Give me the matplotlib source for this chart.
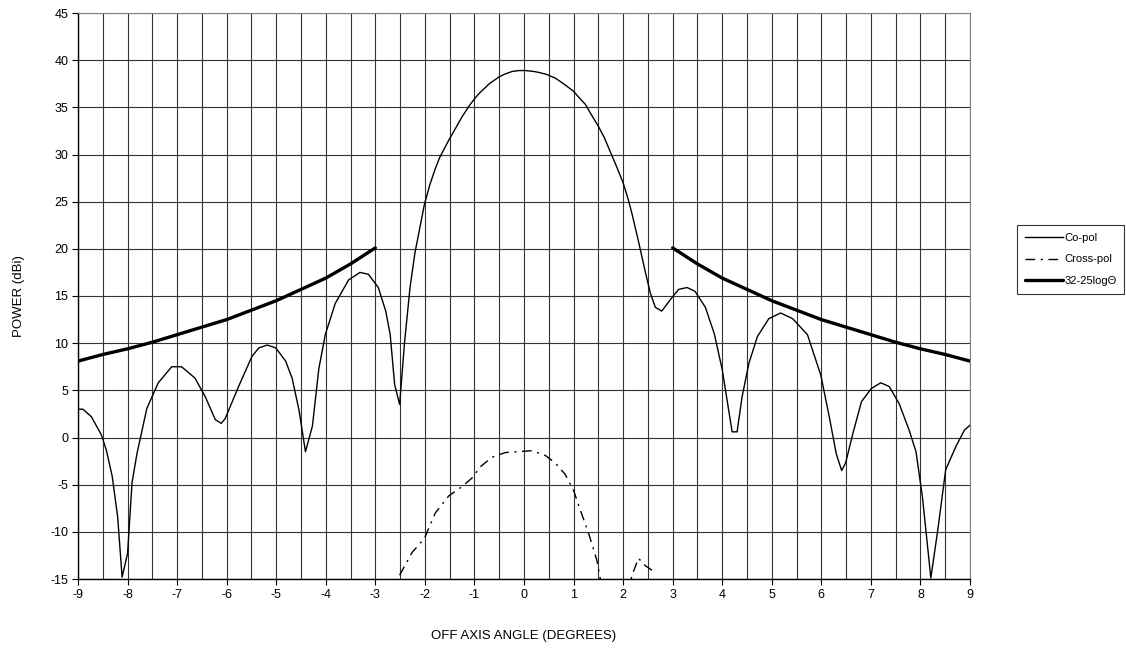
import matplotlib
matplotlib.use("Agg")
import matplotlib.pyplot as plt
import numpy as np

plt.rcParams['font.family'] = ['Liberation Sans', 'DejaVu Sans']
plt.rcParams['axes.unicode_minus'] = False

# Co-pol pattern (angle deg, power dBi)
copol_x = [-9.0, -8.9, -8.73, -8.53, -8.43, -8.31, -8.2, -8.11, -8.0, -7.91, -7.81, -7.61,
           -7.38, -7.11, -6.91, -6.64, -6.43, -6.23, -6.11, -6.03, -5.76, -5.49, -5.35,
           -5.18, -5.01, -4.81, -4.68, -4.54, -4.41, -4.27, -4.14, -4.01, -3.81, -3.54,
           -3.31, -3.14, -2.94, -2.79, -2.70, -2.61, -2.51, -2.41, -2.30, -2.20, -2.01,
           -1.9, -1.79, -1.7, -1.52, -1.4, -1.25, -1.1, -1.0, -0.9, -0.78, -0.7, -0.51,
           -0.4, -0.24, -0.1, 0.03, 0.2, 0.30, 0.45, 0.63, 0.8, 1.0, 1.1, 1.24, 1.35,
           1.50, 1.62, 1.74, 1.87, 2.0, 2.1, 2.18, 2.31, 2.45, 2.55, 2.65, 2.78, 2.98,
           3.12, 3.29, 3.45, 3.66, 3.84, 4.0, 4.20, 4.30, 4.40, 4.54, 4.71, 4.94, 5.18,
           5.42, 5.72, 5.99, 6.16, 6.30, 6.41, 6.49, 6.64, 6.81, 7.01, 7.20, 7.37, 7.57,
           7.77, 7.91, 8.04, 8.21, 8.35, 8.51, 8.72, 8.89, 9.0]
copol_y = [3.0, 3.0, 2.2, 0.3, -1.3, -4.1, -8.4, -14.8, -12.3, -4.8, -1.7, 3.1,
           5.8, 7.5, 7.5, 6.3, 4.3, 1.9, 1.5, 2.0, 5.4, 8.6, 9.5,
           9.8, 9.5, 8.1, 6.3, 2.9, -1.5, 1.2, 7.3, 10.9, 14.2, 16.7,
           17.5, 17.3, 15.9, 13.4, 10.9, 5.6, 3.5, 10.1, 15.9, 19.6, 24.7,
           26.8, 28.5, 29.7, 31.5, 32.6, 34.0, 35.2, 35.9, 36.5, 37.1, 37.5, 38.2,
           38.5, 38.8, 38.9, 38.9, 38.8, 38.7, 38.5, 38.1, 37.5, 36.7, 36.1, 35.3, 34.3,
           33.0, 31.8, 30.3, 28.7, 27.0, 25.3, 23.7, 20.8, 17.5, 15.3, 13.8, 13.4, 14.8,
           15.7, 15.9, 15.5, 13.8, 11.0, 7.2, 0.6, 0.6, 4.3, 7.9, 10.7, 12.6, 13.2,
           12.6, 10.9, 6.6, 2.2, -1.7, -3.5, -2.7, 0.5, 3.8, 5.2, 5.8, 5.4, 3.6,
           0.8, -1.5, -6.3, -14.9, -9.8, -3.4, -0.9, 0.8, 1.3]

# Cross-pol pattern
xpol_x = [-2.51, -2.26, -2.01, -1.79, -1.52, -1.25, -1.05, -0.88, -0.65, -0.38, -0.11,
          0.16, 0.43, 0.63, 0.83, 1.0, 1.13, 1.30, 1.47, 1.54, 1.8, 2.1, 2.18, 2.31,
          2.45, 2.68]
xpol_y = [-14.6, -12.2, -10.7, -8.0, -6.2, -5.2, -4.3, -3.1, -2.1, -1.6, -1.5,
          -1.4, -1.9, -2.7, -3.9, -5.6, -7.6, -10.1, -13.0, -15.0, -17.5, -16.5, -14.6, -12.8,
          -13.6, -14.4]

# Envelope 32-25logΘ (values read at 0.5 deg steps)
env_theta = [3.0, 3.5, 4.0, 4.5, 5.0, 5.5, 6.0, 6.5, 7.0, 7.5, 8.0, 8.5, 9.0]
env_db = [20.1, 18.4, 16.9, 15.7, 14.5, 13.5, 12.5, 11.7, 10.9, 10.1, 9.4, 8.8, 8.1]

x_ticks = list(range(-9, 10))
y_ticks = list(range(-15, 50, 5))

fig = plt.figure(figsize=(11.26, 6.5), dpi=100)
ax = fig.add_axes([78/1126, 1 - 579/650, (970-78)/1126, (579-13)/650])

ax.set_xlim(-9, 9)
ax.set_ylim(-15, 45)
ax.set_xticks(x_ticks)
ax.set_xticks(np.arange(-9, 9.01, 0.5), minor=True)
ax.set_yticks(y_ticks)
ax.tick_params(axis='both', which='major', labelsize=9, direction='out', length=4,
               width=0.8, colors='black', pad=3)
ax.tick_params(axis='x', which='minor', length=0)
ax.grid(True, which='both', axis='x', color='#333333', linewidth=0.8)
ax.grid(True, which='major', axis='y', color='#333333', linewidth=0.8)
ax.set_axisbelow(True)
for s in ['top', 'right']:
    ax.spines[s].set_color('#808080')
for s in ['left', 'bottom']:
    ax.spines[s].set_color('black')
    ax.spines[s].set_linewidth(1.0)

l1, = ax.plot(copol_x, copol_y, color='black', linewidth=1.0, label='Co-pol')
l2, = ax.plot(xpol_x, xpol_y, color='black', linewidth=1.0,
              linestyle=(0, (7, 4, 1.5, 4)), label='Cross-pol')
env_neg = [-t for t in env_theta]
l3, = ax.plot(env_theta, env_db, color='black', linewidth=2.4,
              solid_capstyle='round', label='32-25logΘ')
ax.plot(env_neg, env_db, color='black', linewidth=2.4, solid_capstyle='round')

ax.set_xlabel('OFF AXIS ANGLE (DEGREES)', fontsize=9.5)
ax.set_ylabel('POWER (dBi)', fontsize=9.5)
ax.xaxis.set_label_coords((524 - 78) / 892, (579 - 630) / 566)
ax.yaxis.set_label_coords((25 - 78) / 892, 0.5)

leg = fig.legend(handles=[l1, l2, l3], loc='upper left',
                 bbox_to_anchor=(1017/1126, 1 - 225/650), fontsize=8,
                 frameon=True, fancybox=False, edgecolor='black',
                 handlelength=3.4, handletextpad=0.15, borderpad=0.7,
                 labelspacing=1.05, borderaxespad=0)
leg.get_frame().set_linewidth(0.8)

fig.savefig('out.png', dpi=100)
